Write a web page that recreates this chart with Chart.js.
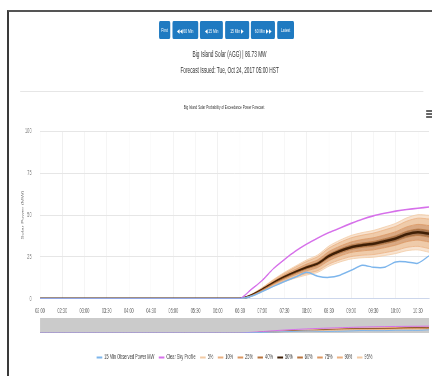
<!DOCTYPE html>
<html>
<head>
<meta charset="utf-8">
<script src="https://cdn.jsdelivr.net/npm/chart.js@4.4.1/dist/chart.umd.min.js"></script>
<style>
  html, body { margin: 0; padding: 0; background: #fff; overflow: hidden; }
  body { width: 432px; height: 376px; position: relative; font-family: 'Liberation Sans', Arial, sans-serif; }
  #frame { position: absolute; left: 7px; top: 10px; width: 500px; height: 400px;
           border-left: 2px solid #3a3a3a; border-top: 2px solid #555; }
  /* the reference is squeezed horizontally, so lay out wide and scale down */
  #page { position: absolute; left: 0; top: 0; width: 790px; height: 376px;
          transform: scaleX(0.56); transform-origin: 0 0; }
  #buttons { position: absolute; left: 284px; top: 21px; display: flex; gap: 3.6px; }
  #buttons div { height: 18px; background: #1f7ac1; color: #fff; font-size: 6px;
                 display: flex; align-items: center; justify-content: center; border-radius: 2px; }
  .line { position: absolute; left: 0; width: 820px; text-align: center; color: #333; }
  #sep { position: absolute; left: 36px; top: 91px; width: 720px; height: 1px; background: #e6e6e6; }
  #menu { position: absolute; left: 761px; top: 110px; width: 14px; }
  #menu div { height: 1.5px; background: #666; margin-bottom: 1.5px; }
  #mainBox { position: absolute; left: 0; top: 112px; }
  #navBox { position: absolute; left: 0; top: 314px; }
</style>
</head>
<body>
<div id="frame"></div>
<div id="page">
  <div id="buttons">
    <div style="width:20px">First</div>
    <div style="width:46px">◀◀ 60 Min</div>
    <div style="width:41px">◀ 15 Min</div>
    <div style="width:43px">15 Min ▶</div>
    <div style="width:43px">60 Min ▶▶</div>
    <div style="width:30px">Latest</div>
  </div>
  <div class="line" style="top:49px;font-size:8.5px;line-height:10px">Big Island Solar (AGG) | 86.73 MW</div>
  <div class="line" style="top:65px;font-size:8.5px;line-height:10px">Forecast Issued: Tue, Oct 24, 2017 05:00 HST</div>
  <div id="sep"></div>
  <div class="line" style="top:103.5px;width:800px;font-size:5.5px;line-height:7px">Big Island Solar Probability of Exceedance Power Forecast</div>
  <div id="menu"><div></div><div></div><div></div></div>
  <div id="mainBox"><canvas id="main" width="790" height="206"></canvas></div>
  <div id="navBox"><canvas id="nav" width="790" height="60"></canvas></div>
</div>
<script>
const times = ['02:00','02:15','02:30','02:45','03:00','03:15','03:30','03:45','04:00','04:15','04:30','04:45',
               '05:00','05:15','05:30','05:45','06:00','06:15','06:30','06:45','07:00','07:15','07:30','07:45',
               '08:00','08:15','08:30','08:45','09:00','09:15','09:30','09:45','10:00','10:15','10:30','10:45'];

const observed = [0,0,0,0,0,0,0,0,0,0,0,0,0,0,0,0,0,0,
                  0, 1.5, 4.3, 7.4, 10.3, 13, 15.8, 13.5, 12.8, 14.1, 17, 20, 18.8, 18.8, 22, 22, 21.2, 25.6];
const clearSky = [0,0,0,0,0,0,0,0,0,0,0,0,0,0,0,0,0,0,
                  0, 5.5, 11, 18, 23.5, 28.5, 32.7, 36.3, 39.5, 42.3, 45, 47.5, 49.5, 51, 52.3, 53.3, 54, 54.8];

const p05 = [0,0,0,0,0,0,0,0,0,0,0,0,0,0,0,0,0,0,
             0, 1.4, 4.3, 7.5, 10.2, 12.4, 14.2, 15.8, 19.5, 22.0, 23.8, 24.5, 24.8, 25.8, 27.0, 28.7, 29.2, 27.8];
const p10 = [0,0,0,0,0,0,0,0,0,0,0,0,0,0,0,0,0,0,
             0, 1.5, 4.5, 7.9, 10.8, 13.1, 15.1, 16.8, 20.7, 23.3, 25.2, 26.0, 26.4, 27.5, 28.8, 30.7, 31.3, 30.0];
const p25 = [0,0,0,0,0,0,0,0,0,0,0,0,0,0,0,0,0,0,
             0, 1.7, 5.0, 8.6, 11.7, 14.4, 16.7, 18.7, 22.8, 25.6, 27.7, 28.6, 29.2, 30.5, 32.0, 34.1, 35.0, 33.9];
const p40 = [0,0,0,0,0,0,0,0,0,0,0,0,0,0,0,0,0,0,
             0, 1.9, 5.3, 9.1, 12.5, 15.4, 17.9, 20.1, 24.4, 27.3, 29.5, 30.7, 31.4, 32.8, 34.4, 36.7, 37.8, 36.8];
const p50 = [0,0,0,0,0,0,0,0,0,0,0,0,0,0,0,0,0,0,
             0, 2.0, 5.5, 9.5, 13.0, 16.0, 18.7, 21.0, 25.5, 28.5, 30.8, 32.0, 32.8, 34.3, 36.0, 38.5, 39.7, 38.8];
const p60 = [0,0,0,0,0,0,0,0,0,0,0,0,0,0,0,0,0,0,
             0, 2.1, 5.7, 9.9, 13.5, 16.6, 19.5, 21.9, 26.6, 29.7, 32.1, 33.3, 34.2, 35.8, 37.6, 40.3, 41.6, 40.8];
const p75 = [0,0,0,0,0,0,0,0,0,0,0,0,0,0,0,0,0,0,
             0, 2.3, 6.0, 10.4, 14.3, 17.6, 20.7, 23.3, 28.2, 31.4, 33.9, 35.4, 36.4, 38.1, 40.0, 42.9, 44.4, 43.7];
const p90 = [0,0,0,0,0,0,0,0,0,0,0,0,0,0,0,0,0,0,
             0, 2.5, 6.5, 11.1, 15.2, 18.9, 22.3, 25.2, 30.3, 33.7, 36.4, 38.0, 39.2, 41.1, 43.2, 46.3, 48.1, 47.6];
const p95 = [0,0,0,0,0,0,0,0,0,0,0,0,0,0,0,0,0,0,
             0, 2.6, 6.7, 11.5, 15.8, 19.6, 23.2, 26.2, 31.5, 35.0, 37.8, 39.5, 40.8, 42.8, 45.0, 48.3, 50.2, 49.8];

const pctNames = ['5%', '10%', '25%', '40%', '50%', '60%', '75%', '90%', '95%'];
const pctData = [p05, p10, p25, p40, p50, p60, p75, p90, p95];

const pctLine = ['#f3cba5', '#ebb080', '#dc9660', '#b8733c', '#3f1f06', '#b8733c', '#dc9660', '#ebb080', '#f3cba5'];
const bandOuter = 'rgba(246, 218, 192, 0.75)';
const bandMid = 'rgba(233, 185, 142, 0.75)';
const bandInner = 'rgba(205, 140, 90, 0.75)';
const bandCore = 'rgba(140, 80, 35, 0.8)';
const bandFill = [bandOuter, bandOuter, bandMid, bandInner, bandCore, bandCore, bandInner, bandMid, bandOuter];

Chart.defaults.font.family = "'Liberation Sans', Arial, sans-serif";
Chart.defaults.animation = false;

function buildDatasets(withFill) {
  const sets = [
    { label: '15 Min Observed Power MW', data: observed, borderColor: '#7cb5ec', backgroundColor: '#7cb5ec',
      borderWidth: withFill ? 1.5 : 1, fill: false },
    { label: 'Clear Sky Profile', data: clearSky, borderColor: '#d670ea', backgroundColor: '#d670ea',
      borderWidth: withFill ? 1.6 : 1, fill: false }
  ];
  pctNames.forEach((name, i) => {
    sets.push({
      label: name,
      data: pctData[i],
      borderColor: pctLine[i],
      backgroundColor: bandFill[i],
      borderWidth: i === 4 ? (withFill ? 2.5 : 1) : 0.8,
      fill: withFill && i > 0 ? '-1' : false
    });
  });
  sets.forEach(s => { s.pointRadius = 0; s.tension = 0.25; });
  return sets;
}

const halfHourTicks = function (val, index) {
  return index % 2 === 0 ? this.getLabelForValue(val) : null;
};

new Chart(document.getElementById('main'), {
  type: 'line',
  data: { labels: times, datasets: buildDatasets(true) },
  options: {
    responsive: false,
    layout: { padding: { top: 11.5, right: 24, left: 0, bottom: 0 } },
    plugins: { legend: { display: false }, title: { display: false }, tooltip: { enabled: false } },
    scales: {
      x: {
        afterFit: (s) => { s.height = 18; },
        grid: { color: '#efefef', drawTicks: false },
        border: { color: '#ccd6eb' },
        ticks: { color: '#666', font: { size: 7 }, padding: 8, maxRotation: 0, autoSkip: false, callback: halfHourTicks }
      },
      y: {
        min: 0, max: 100,
        afterFit: (s) => { s.width = 71.4; },
        grid: { color: '#e6e6e6', drawTicks: false },
        border: { display: false },
        ticks: { stepSize: 25, color: '#666', font: { size: 7 }, padding: 15 },
        title: { display: true, text: 'Solar Power (MW)', color: '#666', font: { size: 6 }, padding: { top: 36.4, bottom: 0 } }
      }
    }
  }
});

const navBackground = {
  id: 'navBackground',
  beforeDatasetsDraw(chart) {
    const a = chart.chartArea;
    chart.ctx.save();
    chart.ctx.fillStyle = '#cbcbcb';
    chart.ctx.fillRect(a.left, a.top, a.right - a.left, a.bottom - a.top);
    chart.ctx.restore();
  }
};

new Chart(document.getElementById('nav'), {
  type: 'line',
  data: { labels: times, datasets: buildDatasets(false) },
  plugins: [navBackground],
  options: {
    responsive: false,
    layout: { padding: { top: 4, right: 24, left: 71.4, bottom: 3 } },
    plugins: {
      title: { display: false },
      tooltip: { enabled: false },
      legend: {
        position: 'bottom',
        labels: {
          color: '#444',
          font: { size: 7 },
          boxWidth: 10,
          boxHeight: 2,
          padding: 8,
          generateLabels: (chart) => Chart.defaults.plugins.legend.labels.generateLabels(chart)
            .map(l => Object.assign(l, { fillStyle: l.strokeStyle, lineWidth: 0 }))
        }
      }
    },
    scales: {
      x: {
        afterFit: (s) => { s.height = 13; },
        grid: { display: false },
        border: { display: false },
        ticks: { color: '#999', font: { size: 7 }, padding: 5, maxRotation: 0, autoSkip: false, callback: halfHourTicks }
      },
      y: { display: false, min: 0, max: 120 }
    }
  }
});
</script>
</body>
</html>
